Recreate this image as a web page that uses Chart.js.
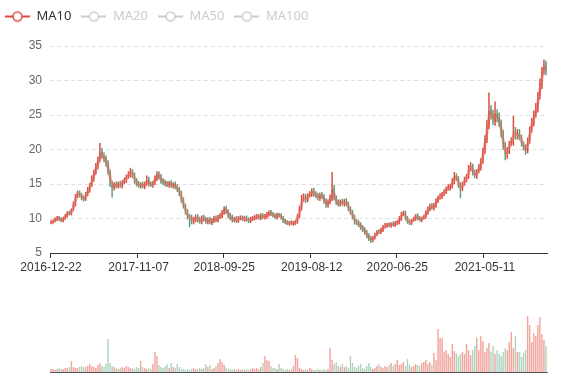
<!DOCTYPE html>
<html><head><meta charset="utf-8">
<script src="https://cdn.jsdelivr.net/npm/chart.js@4/dist/chart.umd.min.js"></script>
<style>
html,body{margin:0;padding:0;background:#fff;overflow:hidden;width:577px;height:380px;}
#wrap{position:relative;width:577px;height:380px;overflow:hidden;background:#fff}
#main{position:absolute;left:-5px;top:0;width:582px;height:280px}
#vol{position:absolute;left:-5px;top:290px;width:582px;height:90px}
</style></head><body>
<div id="wrap"><canvas id="main" width="582" height="280"></canvas><canvas id="vol" width="582" height="90"></canvas></div>
<script>
// Each candle aggregates about five trading sessions.
const tickDates = ['2016-12-22','2017-11-07','2018-09-25','2019-08-12','2020-06-25','2021-05-11'];
const tickIdx = [0,43,85,128,170,213];
const seriesNames = ['MA10','MA20','MA50','MA100'];

const opens = [
9.4,9.5,9.7,9.9,10.1,9.9,9.7,10.1,10.4,10.9,
10.7,11.3,12.0,13.3,13.8,13.4,13.0,12.8,13.6,14.1,
14.9,15.7,16.7,17.5,18.6,19.7,19.1,18.7,18.1,16.7,
15.1,14.4,15.0,14.7,15.1,14.7,15.3,15.5,16.1,16.3,
16.8,16.3,15.5,15.1,14.7,15.0,14.6,15.1,15.7,15.0,
14.8,15.2,15.8,16.5,16.1,15.5,15.3,15.1,14.8,15.2,
14.7,15.0,14.6,14.2,13.7,12.7,11.8,11.0,10.2,10.2,
9.5,9.8,10.3,9.9,9.5,10.2,9.9,9.5,9.9,9.4,
9.6,10.1,9.7,10.3,10.3,10.8,11.5,11.1,10.5,10.2,
9.7,10.0,9.6,10.0,10.2,9.8,10.1,9.8,9.6,9.9,
10.0,10.1,10.4,10.0,10.5,10.1,10.2,10.5,11.0,10.7,
10.5,10.1,10.6,10.5,10.1,9.7,9.5,9.2,9.5,9.2,
9.3,9.5,10.3,11.4,12.9,13.2,12.6,13.4,13.5,14.1,
13.6,13.4,12.9,13.5,13.2,12.6,11.9,12.3,12.8,14.4,
13.1,12.4,12.0,12.5,12.1,12.6,12.2,11.5,11.0,10.3,
9.7,9.5,9.2,8.8,8.5,8.1,7.6,7.2,6.8,7.3,
7.7,8.2,8.0,8.3,8.9,8.9,9.2,8.9,9.3,9.0,
9.3,9.4,9.9,10.7,10.9,10.1,9.6,9.3,9.8,9.9,
10.5,10.1,9.7,10.1,10.2,10.8,11.3,11.9,11.5,11.8,
12.5,13.1,13.1,13.6,13.8,14.4,14.4,14.7,15.3,16.2,
15.9,14.9,14.2,15.1,15.6,16.1,17.2,17.7,16.7,16.1,
16.9,17.3,18.2,19.7,21.4,23.3,25.8,25.1,24.0,25.2,
24.7,23.9,22.4,20.6,19.1,19.7,20.9,21.0,22.8,21.9,
22.5,21.8,20.7,20.3,19.8,21.2,22.9,23.8,25.1,25.8,
27.8,29.3,31.4,32.5];

const closes = [
9.5,9.6,9.9,10.1,9.9,9.7,10.0,10.4,10.8,10.7,
11.2,12.1,13.2,13.7,13.4,13.0,12.8,13.5,14.2,14.8,
15.8,16.6,17.6,18.4,19.6,19.0,18.6,18.0,16.8,15.2,
14.5,14.9,14.7,15.0,14.8,15.2,15.6,16.0,16.4,16.9,
16.2,15.4,15.0,14.8,14.9,14.7,15.0,15.6,15.0,14.9,
15.1,15.9,16.4,16.0,15.4,15.2,15.0,14.9,15.1,14.8,
14.9,14.6,14.2,13.6,12.6,11.8,10.9,10.3,10.1,9.6,
9.9,10.2,9.8,9.6,10.1,9.9,9.6,9.8,9.5,9.7,
10.0,9.8,10.2,10.4,10.9,11.4,11.0,10.4,10.1,9.8,
9.9,9.7,10.0,10.1,9.9,10.0,9.8,9.7,9.9,10.0,
10.2,10.3,10.1,10.4,10.2,10.3,10.6,10.9,10.6,10.4,
10.2,10.5,10.4,10.1,9.6,9.4,9.3,9.4,9.3,9.4,
9.5,10.4,11.5,12.8,13.1,12.7,13.3,13.6,14.0,13.5,
13.3,13.0,13.4,13.1,12.5,12.0,12.4,13.0,14.2,13.0,
12.3,12.1,12.4,12.2,12.5,12.1,11.4,10.9,10.2,9.6,
9.4,9.1,8.7,8.4,8.0,7.5,7.1,6.9,7.2,7.6,
8.0,8.1,8.4,8.8,9.0,9.1,9.0,9.2,9.1,9.4,
9.5,10.0,10.6,10.8,10.0,9.5,9.4,9.7,10.0,10.4,
10.0,9.8,10.0,10.3,10.9,11.4,11.8,11.6,11.9,12.6,
13.0,13.2,13.5,13.9,14.3,14.5,14.6,15.4,16.1,15.8,
14.8,14.3,15.0,15.7,16.0,17.3,17.6,16.6,16.2,16.8,
17.4,18.3,19.8,21.5,23.6,25.6,25.0,24.2,25.1,24.6,
23.8,22.2,20.4,19.3,19.8,20.8,21.2,22.6,22.0,22.4,
21.7,20.8,20.2,19.9,21.3,22.8,23.9,25.0,26.0,27.6,
29.5,31.2,32.2,31.4];

const highs = [
9.7,9.8,10.1,10.3,10.3,10.1,10.2,10.6,11.0,11.1,
11.4,12.4,13.5,14.0,14.0,13.7,13.3,13.8,14.5,15.1,
16.2,17.0,18.0,18.9,20.9,20.2,19.5,19.1,18.4,17.0,
15.4,15.2,15.3,15.3,15.4,15.5,15.9,16.3,16.8,17.3,
17.1,16.6,15.8,15.4,15.2,15.3,15.3,16.2,16.0,15.3,
15.4,16.2,16.8,16.8,16.4,15.8,15.6,15.4,15.4,15.5,
15.2,15.3,14.9,14.5,14.0,13.0,12.1,11.3,10.6,10.5,
10.2,10.5,10.6,10.2,10.4,10.5,10.2,10.1,10.2,10.0,
10.3,10.4,10.5,10.7,11.2,11.7,11.8,11.3,10.8,10.5,
10.2,10.3,10.3,10.4,10.4,10.3,10.4,10.1,10.2,10.3,
10.5,10.6,10.6,10.7,10.7,10.6,10.9,11.1,11.2,10.9,
10.7,10.8,10.8,10.7,10.3,9.9,9.7,9.6,9.7,9.6,
9.7,10.6,11.8,13.4,13.6,13.5,13.6,13.9,14.3,14.4,
13.9,13.7,13.7,13.8,13.5,12.9,12.7,13.4,16.7,14.8,
13.3,12.7,12.7,12.8,12.8,12.9,12.4,11.7,11.2,10.5,
9.9,9.7,9.4,9.0,8.7,8.3,7.8,7.4,7.4,7.9,
8.3,8.4,8.6,9.0,9.3,9.3,9.4,9.4,9.5,9.6,
9.7,10.3,10.9,11.1,11.1,10.3,9.8,9.9,10.2,10.6,
10.7,10.3,10.2,10.5,11.1,11.7,12.1,12.2,12.2,12.9,
13.3,13.6,13.8,14.2,14.6,14.9,15.0,15.8,16.7,16.5,
16.1,15.2,15.3,16.0,16.4,17.7,18.1,17.9,17.0,17.1,
17.8,18.7,20.2,22.0,24.2,28.2,26.4,25.7,26.9,25.8,
25.3,24.3,22.8,21.0,20.3,21.2,21.7,24.8,23.2,22.9,
22.9,22.1,21.1,20.7,21.7,23.3,24.5,25.6,26.7,28.3,
30.2,31.9,33.0,32.8];

const lows = [
9.2,9.3,9.5,9.7,9.7,9.5,9.5,9.9,10.2,10.5,
10.5,11.1,11.8,13.0,13.1,12.7,12.5,12.6,13.3,13.8,
14.6,15.4,16.4,17.2,18.2,18.7,18.2,17.6,16.4,14.6,
13.1,14.1,14.4,14.4,14.5,14.4,15.0,15.2,15.8,16.0,
15.9,15.1,14.7,14.5,14.4,14.4,14.3,14.8,14.7,14.6,
14.5,14.9,15.5,15.7,15.1,14.9,14.7,14.6,14.5,14.5,
14.4,14.3,13.9,13.3,12.3,11.5,10.6,9.9,8.8,9.2,
9.2,9.5,9.5,9.3,9.2,9.6,9.3,9.2,9.2,9.1,
9.4,9.5,9.5,10.0,10.1,10.6,10.7,10.1,9.8,9.5,
9.5,9.4,9.4,9.8,9.7,9.6,9.6,9.4,9.4,9.7,
9.8,9.9,9.9,9.8,10.0,9.9,10.0,10.3,10.4,10.2,
10.0,9.9,10.2,9.9,9.4,9.2,9.1,9.0,9.1,9.0,
9.1,9.3,10.1,11.2,12.5,12.3,12.4,13.1,13.2,13.2,
13.0,12.7,12.6,12.9,12.2,11.6,11.6,12.1,12.6,12.7,
12.0,11.8,11.8,11.9,11.8,11.8,11.1,10.6,9.9,9.2,
9.1,8.8,8.4,8.1,7.7,7.2,6.8,6.5,6.6,7.0,
7.5,7.8,7.8,8.1,8.6,8.7,8.8,8.7,8.9,8.8,
9.1,9.2,9.7,10.4,9.8,9.3,9.1,9.1,9.6,9.7,
9.8,9.6,9.5,9.9,10.0,10.6,11.1,11.3,11.2,11.6,
12.3,12.8,12.9,13.3,13.6,14.1,14.1,14.4,15.0,15.5,
14.5,13.0,14.0,14.8,15.3,15.8,16.9,16.3,15.9,15.8,
16.6,17.0,18.0,19.4,21.0,23.0,24.4,23.6,23.5,24.0,
23.3,21.8,20.0,18.5,18.7,19.4,20.6,20.6,21.5,21.5,
21.4,20.5,19.9,19.3,19.5,20.9,22.5,23.4,24.7,25.4,
27.3,28.8,30.9,30.8];

const volumes = [
3,3,2,3,4,3,3,4,4,5,
11,5,4,4,5,6,5,5,6,8,
6,5,4,7,9,6,5,8,33,9,
6,5,4,3,4,5,4,6,5,4,
4,3,5,4,11,5,4,3,4,3,
8,20,16,7,5,4,6,8,4,9,
5,4,8,5,3,3,2,3,2,3,
4,3,3,4,3,4,8,5,7,3,
4,6,9,13,10,7,4,3,3,2,
3,2,3,2,3,2,3,2,3,4,
3,4,3,5,9,16,12,11,6,4,
4,3,8,4,3,2,3,2,3,6,
17,14,4,3,2,3,2,4,3,2,
2,3,2,2,3,2,3,24,12,8,
10,6,5,8,5,6,4,16,9,5,
4,6,8,4,3,6,9,5,3,4,
6,8,5,4,6,5,7,9,6,8,
12,7,8,10,6,13,7,5,6,8,
7,6,9,10,12,8,10,7,19,12,
43,34,34,20,22,18,15,28,21,19,
16,18,20,18,28,22,17,22,26,34,
22,36,31,20,24,29,20,26,18,22,
18,16,20,24,22,30,40,24,36,20,
20,15,19,22,56,47,30,39,36,47,
55,38,32,26];

const N = closes.length;
// category labels: bucket dates, with the labelled buckets carrying their exact dates
const startDate = new Date(Date.UTC(2016, 11, 22));
const categories = [];
for (let i = 0; i < N; i++) {
  const k = tickIdx.indexOf(i);
  if (k >= 0) { categories.push(tickDates[k]); continue; }
  const d = new Date(startDate.getTime() + Math.round(i * 7.5) * 86400000);
  categories.push(d.toISOString().slice(0, 10));
}
// MA10: ten sessions = two buckets
const ma10 = closes.map((c, i) => i < 1 ? null : (closes[i - 1] + c) / 2);

const UP = '#dc4a3d', DOWN = '#5a9e7a';
const UP_V = 'rgba(232,90,75,0.55)', DOWN_V = 'rgba(80,160,115,0.45)';
const isUp = closes.map((c, i) => c >= opens[i]);
const candleColors = isUp.map(u => u ? UP : DOWN);
const volColors = isUp.map(u => u ? UP_V : DOWN_V);

function makeIcon(color) {
  const c = document.createElement('canvas');
  c.width = 25; c.height = 12;
  const g = c.getContext('2d');
  g.strokeStyle = color; g.lineWidth = 2;
  g.beginPath(); g.moveTo(0, 6); g.lineTo(25, 6); g.stroke();
  g.beginPath(); g.arc(12.5, 6, 4.5, 0, Math.PI * 2);
  g.fillStyle = '#fff'; g.fill(); g.lineWidth = 1.5; g.stroke();
  return c;
}
const iconOn = makeIcon('#d94b40');
const iconOff = makeIcon('#cccccc');

const legendPad = {
  id: 'legendPad',
  beforeUpdate(chart) {
    const lg = chart.legend;
    if (lg && !lg._patched) {
      const f = lg.fit;
      lg.fit = function () { f.call(this); this.height += 13; };
      lg._patched = true;
    }
  }
};

const FONT = "'Liberation Sans', Arial, sans-serif";

new Chart(document.getElementById('main'), {
  data: {
    labels: categories,
    datasets: [
      { type: 'line', label: 'MA10', data: ma10, borderColor: 'rgba(228,105,95,0.55)', borderWidth: 3, pointRadius: 0, tension: 0, order: 0 },
      { type: 'line', label: 'MA20', data: [], hidden: true, order: 0 },
      { type: 'line', label: 'MA50', data: [], hidden: true, order: 0 },
      { type: 'line', label: 'MA100', data: [], hidden: true, order: 0 },
      { type: 'bar', label: 'wick', data: lows.map((l, i) => [l, highs[i]]), backgroundColor: candleColors, barThickness: 0.8, grouped: false, order: 2 },
      { type: 'bar', label: 'body', data: opens.map((o, i) => [o, closes[i]]), backgroundColor: candleColors, barPercentage: 0.55, categoryPercentage: 1, grouped: false, order: 1 }
    ]
  },
  options: {
    responsive: false, animation: false, events: [],
    layout: { padding: { left: 0, right: 30, top: 0, bottom: 0 } },
    plugins: {
      tooltip: { enabled: false },
      legend: {
        display: true, position: 'top', align: 'start',
        labels: {
          usePointStyle: true, pointStyleWidth: 25, boxHeight: 12, padding: 10,
          font: { size: 13, family: "'Noto Sans', sans-serif" },
          generateLabels() {
            return seriesNames.map((name, k) => ({
              text: name, pointStyle: k === 0 ? iconOn : iconOff, hidden: false,
              fontColor: k === 0 ? '#333' : '#ccc', lineWidth: 0, datasetIndex: k
            }));
          }
        }
      }
    },
    scales: {
      x: {
        type: 'category', offset: true,
        grid: { drawOnChartArea: false, drawTicks: true, tickLength: 5, offset: true,
          tickColor: ctx => tickIdx.includes(ctx.index) ? '#333' : 'rgba(0,0,0,0)' },
        border: { display: true, color: '#333', width: 1 },
        ticks: { autoSkip: false, maxRotation: 0, minRotation: 0, padding: 2, color: '#333',
          font: { size: 12, family: FONT },
          callback: (v, i) => tickIdx.includes(i) ? categories[i] : '' },
        afterFit(s) { s.height = 27; }
      },
      y: {
        min: 5, max: 35,
        ticks: { stepSize: 5, padding: 8, color: '#666', font: { size: 12, family: FONT } },
        grid: { color: '#e0e0e0', drawTicks: false, lineWidth: 1 },
        border: { display: false, dash: [4, 3] },
        afterFit(s) { s.width = 55; }
      }
    }
  },
  plugins: [legendPad]
});

new Chart(document.getElementById('vol'), {
  type: 'bar',
  data: {
    labels: categories,
    datasets: [{ label: 'Volume', data: volumes, backgroundColor: volColors, barPercentage: 0.7, categoryPercentage: 1 }]
  },
  options: {
    responsive: false, animation: false, events: [],
    layout: { padding: { left: 55, right: 30, top: 10, bottom: 8 } },
    plugins: { legend: { display: false }, tooltip: { enabled: false } },
    scales: {
      x: { type: 'category', offset: true, grid: { display: false }, ticks: { display: false },
        border: { display: true, color: '#555', width: 1 }, afterFit(s) { s.height = 0; } },
      y: { display: false, min: 0, max: 72 }
    }
  }
});
</script>
</body></html>
